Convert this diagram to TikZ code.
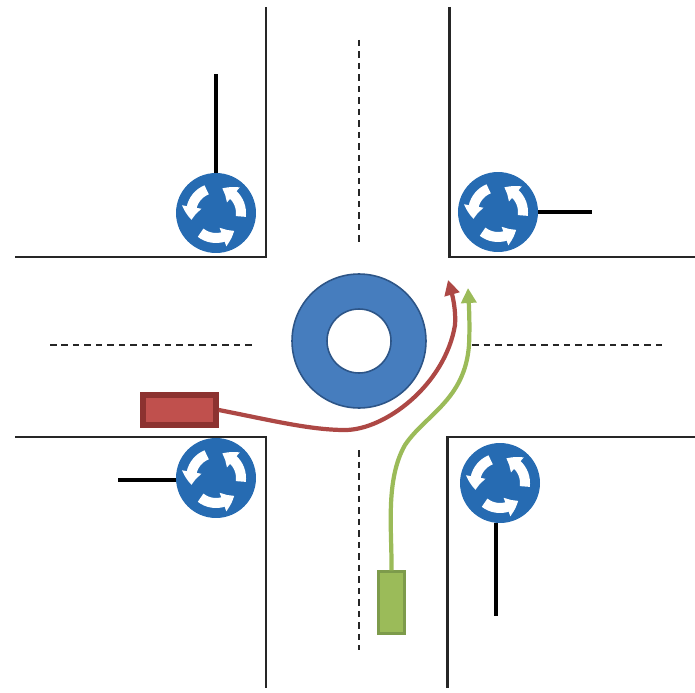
\documentclass[tikz,border=0pt]{standalone}
\usepackage{tikz}
\usetikzlibrary{arrows.meta,bending}
\definecolor{signBlue}{RGB}{38,107,178}
\definecolor{ringBlue}{RGB}{70,125,190}
\definecolor{ringEdge}{RGB}{45,85,135}
\definecolor{softRed}{RGB}{192,80,77}
\definecolor{darkRed}{RGB}{140,50,48}
\definecolor{softGreen}{RGB}{155,187,89}
\definecolor{darkGreen}{RGB}{125,155,75}

\begin{document}
\begin{tikzpicture}[
  x=0.02cm, y=-0.02cm,
  kerb/.style={draw=black!85, line width=1.7pt, line join=miter},
  centreline/.style={draw=black!85, line width=0.85pt, dash pattern=on 0.13cm off 0.1cm},
  ringouter/.style={draw=ringEdge, line width=0.9pt, circle, fill=ringBlue, minimum size=2.68cm, inner sep=0pt},
  ringinner/.style={draw=ringEdge, line width=0.9pt, circle, fill=white, minimum size=1.28cm, inner sep=0pt},
  roundsign/.style={circle, fill=signBlue, minimum size=1.6cm, inner sep=0pt, outer sep=0pt},
  signarrow/.style={draw=white, line width=0.2cm, -{Triangle[width=0.38cm, length=0.26cm, bend]}},
  pole/.style={draw=black, line width=2.3pt},
  redcar/.style={draw=darkRed, line width=3.2pt, fill=softRed, minimum width=1.46cm, minimum height=0.6cm, inner sep=0pt},
  greencar/.style={draw=darkGreen, line width=1.2pt, fill=softGreen, minimum width=0.52cm, minimum height=1.24cm, inner sep=0pt},
  redpath/.style={draw=softRed!90!black, line width=2.4pt, -{Triangle[width=0.3cm, length=0.3cm]}},
  greenpath/.style={draw=softGreen, line width=2.4pt, -{Triangle[width=0.3cm, length=0.3cm]}},
  roundarrows/.pic={
    \foreach \ang in {-8,112,232}
      \draw[signarrow, x=1cm, y=1cm] (\ang:0.5) arc[start angle=\ang, delta angle=84, radius=0.5];
  }
]
  \useasboundingbox (0,0) rectangle (695,692);

  \draw[kerb] (15,257) -- (266,257) -- (266,7);
  \draw[kerb] (449,7) -- (449,257) -- (695,257);
  \draw[kerb] (15,437) -- (266,437) -- (266,688);
  \draw[kerb] (447,688) -- (447,437) -- (695,437);

  \draw[centreline] (359,40) -- (359,243);
  \draw[centreline] (359,450) -- (359,650);
  \draw[centreline] (50,345) -- (252,345);
  \draw[centreline] (472,345) -- (662,345);

  \node[ringouter] (island) at (359,341) {};
  \node[ringinner] (hole) at (359,341) {};

  \node[roundsign] (signNW) at (216,213) {};
  \node[roundsign] (signNE) at (498,212) {};
  \node[roundsign] (signSW) at (216,478) {};
  \node[roundsign] (signSE) at (500,483) {};
  \foreach \signname in {signNW,signNE,signSW,signSE}
    \pic at (\signname) {roundarrows};

  \coordinate (poleNW) at (216,74);
  \coordinate (poleNE) at (592,212);
  \coordinate (poleSW) at (118,480);
  \coordinate (poleSE) at (496,616);
  \draw[pole] (signNW) -- (poleNW);
  \draw[pole] (signNE) -- (poleNE);
  \draw[pole] (signSW.west |- poleSW) -- (poleSW);
  \draw[pole] (signSE.south -| poleSE) -- (poleSE);

  \node[redcar] (carRed) at (179.5,410) {};
  \node[greencar] (carGreen) at (391.5,602.5) {};
  \coordinate (endRed) at (448,280);
  \coordinate (endGreen) at (468,288);

  \draw[redpath] (carRed.east) .. controls (270,420) and (310,430) .. (345,430)
    .. controls (385,430) and (445,385) .. (455,325)
    .. controls (456,310) and (453,295) .. (endRed);
  \draw[greenpath] (carGreen.north) .. controls (392,530) and (385,480) .. (405,445)
    .. controls (425,415) and (465,400) .. (469,345)
    .. controls (470,325) and (469,305) .. (endGreen);
\end{tikzpicture}
\end{document}
